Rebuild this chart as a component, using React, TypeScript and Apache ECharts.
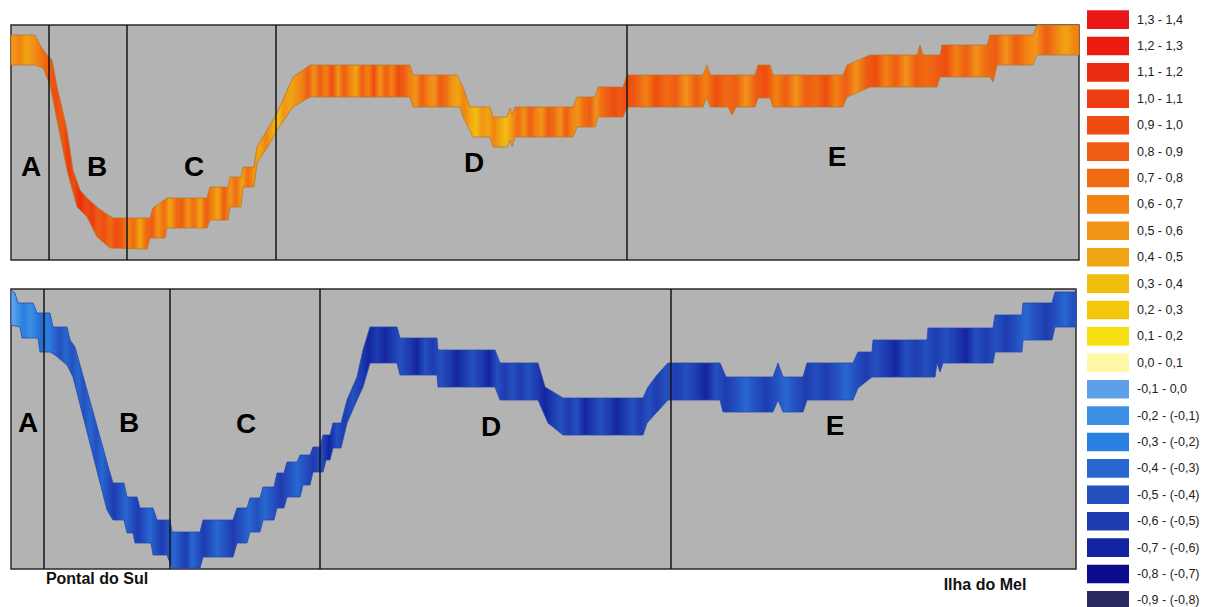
import React, { useEffect, useRef } from "react";
import * as echarts from "echarts";

// ---- Profile edges (distance along transect, depth from panel top) ----
const TOP_UPPER: [number, number][] = [
  [0, 10], [24, 10], [29, 20], [36, 30], [41, 35], [46, 62], [52, 87], [56, 105], [62, 145], [69, 165],
  [76, 173], [86, 182], [94, 188], [102, 193], [139, 193], [142, 183], [156, 173], [196, 173], [199, 162],
  [217, 162], [219, 152], [230, 152], [232, 142], [243, 142], [246, 122], [259, 100], [266, 88], [274, 70],
  [282, 52], [292, 45], [299, 40],
  [399, 40], [402, 50], [446, 50], [452, 62], [459, 82], [479, 82], [482, 92], [496, 92], [499, 83],
  [501, 89], [504, 82], [562, 82], [566, 72], [584, 72], [587, 62], [612, 62], [616, 50], [692, 50],
  [696, 40], [699, 50], [744, 50], [747, 40], [759, 40], [762, 50], [832, 50], [836, 40], [859, 30],
  [906, 30], [909, 20], [912, 30], [929, 30], [931, 20], [976, 20], [979, 10], [1022, 10], [1026, 0],
  [1068, 0],
];
const TOP_LOWER: [number, number][] = [
  [0, 40], [24, 40], [32, 43], [39, 60], [46, 95], [56, 145], [66, 182], [76, 192], [86, 212], [99, 223],
  [136, 224], [139, 213], [154, 213], [156, 203], [196, 203], [199, 195], [217, 195], [219, 182],
  [230, 182], [232, 162], [243, 162], [246, 138], [259, 118], [266, 105], [282, 82], [299, 72],
  [399, 72], [402, 82], [449, 82], [452, 92],
  [462, 112], [479, 112], [482, 122], [496, 122], [499, 115], [501, 122], [504, 112], [562, 112],
  [566, 102], [584, 102], [587, 92], [612, 92], [616, 82], [692, 82], [696, 72], [699, 82], [717, 82],
  [721, 90], [725, 82], [744, 82], [747, 73], [759, 73], [762, 82], [832, 82], [836, 72], [859, 62],
  [926, 62], [929, 52], [979, 52], [982, 57], [986, 40], [1022, 40], [1026, 30], [1068, 30],
];
const BOT_UPPER: [number, number][] = [
  [0, 1], [4, 4], [7, 14], [22, 14], [26, 24], [39, 24], [42, 38], [56, 38], [59, 51], [64, 58],
  [99, 184], [102, 194], [113, 194], [116, 208], [126, 208], [129, 219], [142, 219], [146, 231], [159, 231],
  [161, 243], [189, 243], [192, 231], [222, 231], [226, 219], [236, 219], [239, 209], [249, 209],
  [252, 198], [263, 198], [266, 184], [273, 184], [276, 173], [286, 173], [289, 166], [299, 166],
  [302, 158], [309, 158], [312, 146], [319, 146], [322, 134], [330, 134], [336, 111], [346, 88], [352, 61],
  [359, 38], [386, 38], [389, 49], [426, 49], [427, 61], [484, 61], [489, 74], [527, 74], [534, 98],
  [552, 109], [632, 109], [637, 98], [646, 86], [657, 74], [709, 74], [715, 88], [762, 88], [767, 74],
  [772, 88], [792, 88], [796, 74], [842, 74], [847, 63], [861, 63], [862, 51], [916, 51], [917, 39],
  [982, 39], [984, 26], [1011, 26], [1012, 14], [1041, 14], [1044, 3], [1065, 3],
];
const BOT_LOWER: [number, number][] = [
  [0, 36], [9, 38], [11, 49], [27, 49], [29, 63], [39, 63], [44, 66], [56, 76], [62, 88], [96, 221],
  [102, 231], [113, 231], [116, 244], [122, 244], [124, 254], [140, 254], [142, 266], [156, 266],
  [161, 279], [189, 279], [192, 268], [222, 268], [226, 254], [236, 254], [239, 243], [249, 243],
  [252, 231], [263, 231], [266, 219], [273, 219], [276, 208], [289, 208], [292, 196], [299, 196],
  [302, 183], [312, 183], [315, 171], [319, 171], [322, 159], [330, 159], [336, 134],
  [346, 111], [352, 98], [359, 74], [386, 74], [389, 86], [426, 86], [427, 98], [484, 98], [489, 111],
  [527, 111], [537, 134], [552, 146], [632, 146], [636, 134], [646, 123], [657, 111], [709, 111],
  [712, 123], [762, 123], [767, 111], [772, 123], [792, 123], [796, 111], [842, 111], [847, 99],
  [861, 88], [924, 88], [926, 74], [929, 83], [932, 74], [982, 74], [984, 63], [1011, 63], [1012, 51],
  [1041, 51], [1044, 38], [1065, 38],
];

// ---- Zone boundaries ----
const TOP_DIVIDERS = [38, 116, 265, 616];
const BOT_DIVIDERS = [33, 159, 309, 660];
const ZONES = ["A", "B", "C", "D", "E"];
const PLACES = ["Pontal do Sul", "Ilha do Mel"];

// ---- Streak values along the band (start distance, value) ----
const TOP_STREAKS: [number, number][] = [
  [0, 0.55], [6, 0.65], [12, 0.45], [18, 0.55], [24, 0.65], [30, 0.75], [36, 0.85], [42, 0.95], [48, 0.85],
  [54, 1.05], [60, 0.95], [66, 1.15], [72, 0.95], [78, 1.05], [84, 0.85], [90, 0.95], [96, 0.75], [102, 0.95],
  [108, 0.85], [114, 0.65], [120, 0.75], [126, 0.45], [132, 0.75], [138, 0.85], [144, 0.55], [150, 0.75],
  [156, 0.45], [162, 0.75], [168, 0.85], [174, 0.55], [180, 0.75], [186, 0.45], [192, 0.85], [198, 0.65],
  [204, 0.45], [210, 0.85], [216, 0.55], [222, 0.75], [228, 0.45], [234, 0.75], [240, 0.55], [246, 0.45],
  [252, 0.65], [258, 0.45], [264, 0.35], [270, 0.55], [276, 0.45], [282, 0.55], [288, 0.65], [294, 0.85],
  [300, 0.55], [306, 0.85], [312, 0.65], [318, 0.95], [324, 0.55], [330, 0.85], [336, 0.65], [342, 0.45],
  [348, 0.85], [354, 0.65], [360, 0.95], [366, 0.55], [372, 0.85], [378, 0.65], [384, 0.95], [390, 0.85],
  [396, 0.65], [402, 0.55], [408, 0.85], [414, 0.65], [420, 0.55], [426, 0.85], [432, 0.75], [438, 0.55],
  [444, 0.45], [450, 0.65], [456, 0.45], [462, 0.35], [468, 0.55], [474, 0.45], [480, 0.65], [486, 0.45],
  [492, 0.35], [498, 0.55], [504, 0.75], [510, 0.55], [516, 0.85], [522, 0.65], [528, 0.55], [534, 0.85],
  [540, 0.75], [546, 0.55], [552, 0.85], [558, 0.65], [564, 0.55], [570, 0.75], [576, 0.85], [582, 0.55],
  [588, 0.75], [594, 0.85], [600, 0.95], [606, 0.85], [612, 0.95], [620, 0.85], [630, 0.65], [640, 0.95],
  [650, 0.75], [660, 0.85], [670, 0.55], [680, 0.85], [690, 0.65], [700, 0.95], [710, 0.75], [720, 0.85],
  [730, 0.55], [740, 0.85], [750, 0.95], [760, 0.65], [770, 0.85], [780, 0.55], [790, 0.85], [800, 0.75],
  [810, 0.95], [820, 0.65], [830, 0.85], [840, 0.55], [850, 0.85], [860, 0.95], [870, 0.65], [880, 0.85],
  [890, 0.55], [900, 0.85], [910, 0.75], [920, 0.85], [930, 0.95], [940, 0.65], [950, 0.85], [960, 0.55],
  [970, 0.75], [980, 0.85], [990, 0.55], [1000, 0.85], [1010, 0.65], [1020, 0.55], [1030, 0.85],
  [1040, 0.65], [1050, 0.45], [1060, 0.65],
];
const BOT_STREAKS: [number, number][] = [
  [0, -0.05], [5, -0.15], [10, -0.25], [16, -0.15], [22, -0.25], [28, -0.35], [34, -0.25], [40, -0.35],
  [46, -0.45], [52, -0.35], [58, -0.45], [64, -0.35], [70, -0.45], [76, -0.35], [82, -0.45], [88, -0.35],
  [94, -0.45], [100, -0.55], [106, -0.45], [112, -0.35], [118, -0.45], [124, -0.55], [130, -0.45],
  [136, -0.35], [142, -0.45], [148, -0.55], [154, -0.45], [160, -0.35], [166, -0.45], [172, -0.55],
  [178, -0.35], [184, -0.45], [190, -0.55], [196, -0.45], [202, -0.35], [210, -0.45], [218, -0.55],
  [226, -0.45], [234, -0.35], [242, -0.45], [250, -0.35], [258, -0.45], [266, -0.55], [274, -0.45],
  [282, -0.35], [290, -0.45], [298, -0.55], [306, -0.45], [314, -0.65], [322, -0.45], [330, -0.55],
  [338, -0.45], [346, -0.55], [354, -0.65], [362, -0.55], [370, -0.65], [378, -0.55], [386, -0.45],
  [394, -0.55], [402, -0.65], [410, -0.45], [418, -0.55], [426, -0.45], [434, -0.55], [442, -0.65],
  [450, -0.55], [458, -0.45], [466, -0.55], [474, -0.65], [482, -0.45], [490, -0.55], [498, -0.45],
  [506, -0.55], [514, -0.45], [522, -0.55], [530, -0.65], [538, -0.55], [546, -0.45], [554, -0.55],
  [562, -0.45], [570, -0.65], [578, -0.55], [586, -0.45], [594, -0.55], [602, -0.65], [610, -0.55],
  [618, -0.45], [626, -0.55], [634, -0.45], [642, -0.55], [650, -0.45], [660, -0.55], [670, -0.45],
  [680, -0.55], [690, -0.65], [700, -0.45], [710, -0.55], [720, -0.45], [730, -0.35], [740, -0.45],
  [750, -0.55], [760, -0.45], [770, -0.35], [780, -0.45], [790, -0.55], [800, -0.45], [810, -0.55],
  [820, -0.45], [830, -0.35], [840, -0.45], [850, -0.55], [860, -0.45], [870, -0.55], [880, -0.65],
  [890, -0.45], [900, -0.55], [910, -0.45], [920, -0.55], [930, -0.45], [940, -0.55], [950, -0.65],
  [960, -0.45], [970, -0.55], [980, -0.45], [990, -0.55], [1000, -0.45], [1010, -0.35], [1020, -0.45],
  [1030, -0.55], [1040, -0.45], [1050, -0.35], [1058, -0.45],
];

// ---- Classes (legend) ----
const CLASS_LABELS = [
  "1,3 - 1,4", "1,2 - 1,3", "1,1 - 1,2", "1,0 - 1,1", "0,9 - 1,0", "0,8 - 0,9", "0,7 - 0,8", "0,6 - 0,7",
  "0,5 - 0,6", "0,4 - 0,5", "0,3 - 0,4", "0,2 - 0,3", "0,1 - 0,2", "0,0 - 0,1", "-0,1 - 0,0",
  "-0,2 - (-0,1)", "-0,3 - (-0,2)", "-0,4 - (-0,3)", "-0,5 - (-0,4)", "-0,6 - (-0,5)", "-0,7 - (-0,6)",
  "-0,8 - (-0,7)", "-0,9 - (-0,8)",
];
const CLASS_LOWER = [1.3, 1.2, 1.1, 1.0, 0.9, 0.8, 0.7, 0.6, 0.5, 0.4, 0.3, 0.2, 0.1, 0.0, -0.1, -0.2, -0.3, -0.4, -0.5, -0.6, -0.7, -0.8, -0.9];
const CLASS_COLORS = [
  "#e81818", "#ea1c10", "#ea2c10", "#ec3c10", "#ee4c10", "#ee5c14", "#ef6c12", "#f28212", "#f29418",
  "#f0a612", "#f2be0e", "#f4c80a", "#f8e010", "#fef8a8", "#5da0e8", "#3c90e6", "#2a80e0", "#2868d0",
  "#2450c0", "#1e3cb0", "#1424a0", "#0a0a8c", "#2a2a60",
];

const TOP_GRID = { left: 11, top: 25, width: 1068, height: 235 };
const BOT_GRID = { left: 11, top: 289, width: 1065, height: 280 };

function colorFor(v: number): string {
  for (let i = 0; i < CLASS_LOWER.length; i++) {
    if (v >= CLASS_LOWER[i] - 1e-9 && v < CLASS_LOWER[i] + 0.1 - 1e-9) return CLASS_COLORS[i];
  }
  return CLASS_COLORS[CLASS_COLORS.length - 1];
}

function bandSeries(upper: [number, number][], lower: [number, number][], streaks: [number, number][], idx: number, stroke: string) {
  return {
    type: "custom",
    xAxisIndex: idx,
    yAxisIndex: idx,
    silent: true,
    z: 2,
    data: [[upper[0][0], upper[0][1]]],
    renderItem: (_p: any, api: any) => {
      const up = upper.map((p) => api.coord(p));
      const lo = lower.map((p) => api.coord(p)).reverse();
      const pts = up.concat(lo);
      const xs = pts.map((p: number[]) => p[0]);
      const minX = Math.min(...xs);
      const maxX = Math.max(...xs);
      const end = upper[upper.length - 1][0];
      const stops = streaks.map(([x, v], i) => {
        const next = i + 1 < streaks.length ? streaks[i + 1][0] : end;
        const cx = api.coord([(x + next) / 2, 0])[0];
        const off = Math.max(0, Math.min(1, (cx - minX) / (maxX - minX)));
        return { offset: off, color: colorFor(v) };
      });
      return {
        type: "polygon",
        shape: { points: pts },
        style: {
          fill: new echarts.graphic.LinearGradient(0, 0, 1, 0, stops),
          stroke,
          lineWidth: 0.8,
        },
      };
    },
  };
}

function dividerSeries(xs: number[], idx: number, h: number) {
  return {
    type: "custom",
    xAxisIndex: idx,
    yAxisIndex: idx,
    silent: true,
    z: 3,
    data: xs.map((x) => [x, 0]),
    renderItem: (_p: any, api: any) => {
      const x = api.value(0);
      const a = api.coord([x, 0]);
      const b = api.coord([x, h]);
      return {
        type: "line",
        shape: { x1: a[0], y1: a[1], x2: b[0], y2: b[1] },
        style: { stroke: "#151515", lineWidth: 1.5 },
      };
    },
  };
}

const FONT = "'Liberation Sans', Arial, Helvetica, sans-serif";

export default function App() {
  const ref = useRef<HTMLDivElement>(null);
  useEffect(() => {
    if (!ref.current) return;
    const chart = echarts.init(ref.current, undefined, { renderer: "svg" });

    const zoneText = (t: string, x: number, y: number, size: number) => ({
      type: "text",
      x,
      y,
      z: 10,
      style: { text: t, fill: "#000", font: `bold ${size}px ${FONT}`, textAlign: "center", textVerticalAlign: "middle" },
    });
    const topZonePos = [[31, 166], [97, 166], [194, 166], [474, 162], [837, 156]];
    const botZonePos = [[28, 422], [129, 422], [246, 423], [491, 426], [835, 425]];

    const legendEls: any[] = [];
    CLASS_LABELS.forEach((lab, i) => {
      const cy = 19.6 + 26.4 * i;
      legendEls.push({
        type: "rect",
        shape: { x: 1087, y: cy - 9.3, width: 42, height: 18.6 },
        style: { fill: CLASS_COLORS[i] },
      });
      legendEls.push({
        type: "text",
        x: 1137,
        y: cy,
        style: { text: lab, fill: "#222", font: `12.5px ${FONT}`, textAlign: "left", textVerticalAlign: "middle" },
      });
    });

    const option: any = {
      animation: false,
      backgroundColor: "#ffffff",
      grid: [
        { ...TOP_GRID, show: true, backgroundColor: "#b3b3b3", borderColor: "#2a2a2a", borderWidth: 1.5 },
        { ...BOT_GRID, show: true, backgroundColor: "#b3b3b3", borderColor: "#2a2a2a", borderWidth: 1.5 },
      ],
      xAxis: [
        { type: "value", gridIndex: 0, min: 0, max: TOP_GRID.width, show: false },
        { type: "value", gridIndex: 1, min: 0, max: BOT_GRID.width, show: false },
      ],
      yAxis: [
        { type: "value", gridIndex: 0, min: 0, max: TOP_GRID.height, inverse: true, show: false },
        { type: "value", gridIndex: 1, min: 0, max: BOT_GRID.height, inverse: true, show: false },
      ],
      series: [
        bandSeries(TOP_UPPER, TOP_LOWER, TOP_STREAKS, 0, "#b8782a"),
        bandSeries(BOT_UPPER, BOT_LOWER, BOT_STREAKS, 1, "#2448b0"),
        dividerSeries(TOP_DIVIDERS, 0, TOP_GRID.height),
        dividerSeries(BOT_DIVIDERS, 1, BOT_GRID.height),
      ],
      graphic: [
        ...ZONES.map((z, i) => zoneText(z, topZonePos[i][0], topZonePos[i][1], 28)),
        ...ZONES.map((z, i) => zoneText(z, botZonePos[i][0], botZonePos[i][1], 28)),
        {
          type: "text",
          x: 97,
          y: 578,
          style: { text: PLACES[0], fill: "#111", font: `bold 16px ${FONT}`, textAlign: "center", textVerticalAlign: "middle" },
        },
        {
          type: "text",
          x: 985,
          y: 584,
          style: { text: PLACES[1], fill: "#111", font: `bold 16px ${FONT}`, textAlign: "center", textVerticalAlign: "middle" },
        },
        ...legendEls,
      ],
    };
    chart.setOption(option);
    return () => chart.dispose();
  }, []);

  return (
    <div
      ref={ref}
      style={{ position: "absolute", left: 0, top: 0, width: 1207, height: 607, background: "#fff" }}
    />
  );
}
